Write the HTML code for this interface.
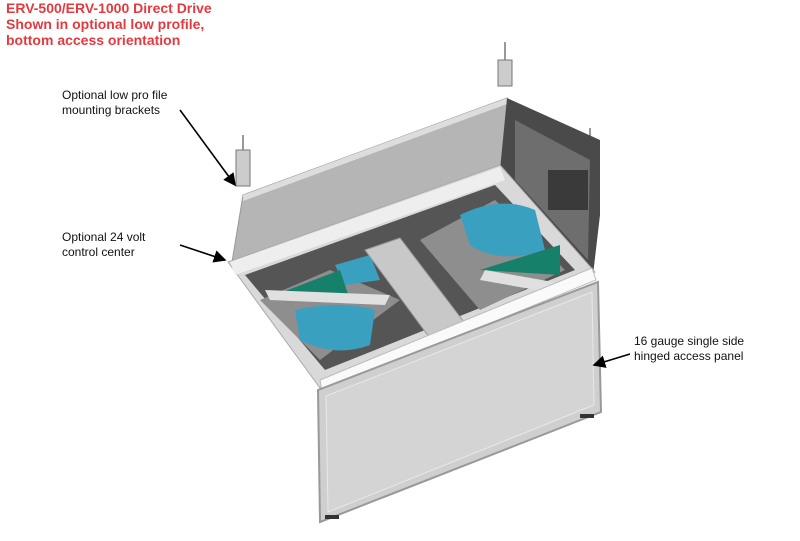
<!DOCTYPE html>
<html><head><style>
body{margin:0;background:#fff;width:800px;height:541px;overflow:hidden;position:relative;font-family:"Liberation Sans",Arial,sans-serif}
.t{position:absolute;color:#e23a3f;font-weight:bold;font-size:14px;line-height:16px;left:6px;top:0}
.l{position:absolute;font-size:12px;line-height:15px;color:#111}
svg{position:absolute;left:0;top:0}
</style></head><body>
<svg width="800" height="541" viewBox="0 0 800 541">
<defs><marker id="a" markerWidth="8" markerHeight="8" refX="7" refY="4" orient="auto"><path d="M0,0L8,4L0,8z" fill="#000"/></marker></defs>
<g stroke="#999" stroke-width="2"><line x1="505" y1="42" x2="505" y2="80"/><line x1="243" y1="135" x2="243" y2="170"/><line x1="590" y1="128" x2="590" y2="160"/></g>
<rect x="498" y="60" width="14" height="26" fill="#ccc" stroke="#777"/>
<rect x="236" y="150" width="14" height="36" fill="#ccc" stroke="#777"/>
<rect x="584" y="140" width="12" height="36" fill="#222"/>
<!-- top box side face -->
<polygon points="243,195 507,98 505,170 232,262" fill="#b5b5b5" stroke="#999"/>
<polygon points="243,195 507,98 507,104 243,201" fill="#ddd"/>
<!-- right face -->
<polygon points="507,98 600,140 600,215 593,275 500,170" fill="#4a4a4a"/>
<polygon points="515,120 590,160 588,260 515,180" fill="#6e6e6e"/>
<rect x="548" y="170" width="40" height="40" fill="#3a3a3a"/>
<!-- frame -->
<polygon points="228,262 500,165 595,272 320,388" fill="#d9d9d9" stroke="#aaa"/>
<polygon points="245,275 495,185 575,270 325,370" fill="#555"/>
<polygon points="260,300 330,270 400,300 320,360" fill="#8e8e8e"/>
<polygon points="420,240 495,200 565,270 480,310" fill="#8e8e8e"/>
<path d="M460,215 Q500,195 535,210 L545,250 Q500,265 470,245z" fill="#3aa0c0"/>
<path d="M295,310 Q340,300 375,310 L370,345 Q335,358 300,340z" fill="#3aa0c0"/>
<path d="M335,265 L370,255 L380,280 L345,285z" fill="#3aa0c0"/>
<polygon points="275,295 340,270 350,300" fill="#17806a"/>
<polygon points="480,270 560,245 560,275" fill="#17806a"/>
<polygon points="365,250 400,238 470,330 435,345" fill="#c8c8c8" stroke="#999"/>
<polygon points="265,290 390,295 385,305 270,300" fill="#e0e0e0"/>
<polygon points="485,270 570,285 565,295 480,280" fill="#e0e0e0"/>
<polygon points="230,262 500,167 505,180 235,275" fill="#eee"/>
<polygon points="320,380 592,268 596,280 322,392" fill="#fafafa" stroke="#bbb"/>
<!-- panel -->
<polygon points="318,390 598,282 601,412 320,522" fill="#cfcfcf" stroke="#999" stroke-width="2"/>
<polygon points="326,396 592,292 594,405 328,512" fill="#d4d4d4" stroke="#e8e8e8"/>
<rect x="325" y="515" width="14" height="4" fill="#333"/><rect x="580" y="414" width="14" height="4" fill="#333"/>
<g stroke="#000" stroke-width="1.6" fill="none">
<line x1="180" y1="110" x2="235" y2="185" marker-end="url(#a)"/>
<line x1="180" y1="245" x2="225" y2="260" marker-end="url(#a)"/>
<line x1="630" y1="354" x2="594" y2="365" marker-end="url(#a)"/>
</g>
</svg>
<div class="t">ERV-500/ERV-1000 Direct Drive<br>Shown in optional low profile,<br>bottom access orientation</div>
<div class="l" style="left:62px;top:88px">Optional low pro file<br>mounting brackets</div>
<div class="l" style="left:62px;top:230px">Optional 24 volt<br>control center</div>
<div class="l" style="left:634px;top:334px">16 gauge single side<br>hinged access panel</div>
</body></html>
